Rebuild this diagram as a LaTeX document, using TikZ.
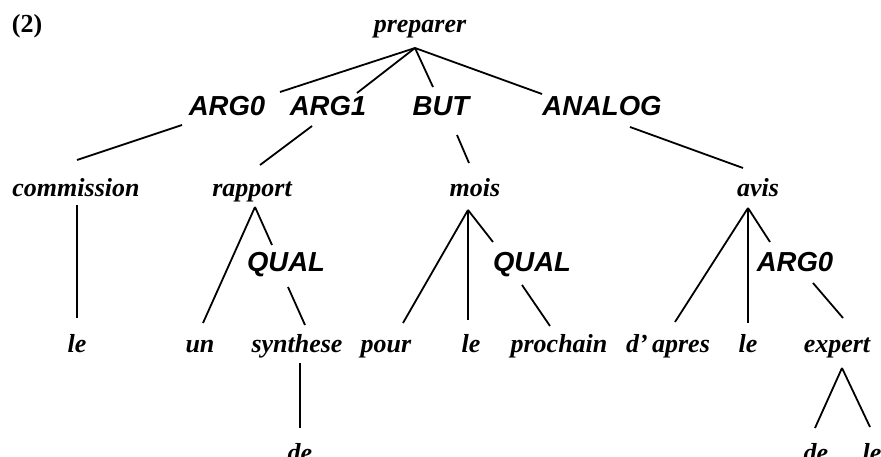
\documentclass[tikz,border=0pt]{standalone}
\usepackage{fontspec}
\setmainfont{Liberation Serif}
\setsansfont{Liberation Sans}
\begin{document}
\begin{tikzpicture}[x=1pt,y=-1pt,
  w/.style={font=\fontsize{26}{30}\selectfont\bfseries\itshape, anchor=base, inner sep=0pt},
  lab/.style={font=\fontsize{27.5}{32}\selectfont\sffamily\bfseries\itshape, anchor=base, inner sep=0pt},
  edge/.style={line width=1.8pt}]
\useasboundingbox (0,0) rectangle (881,457);
% labels
\node[anchor=base, inner sep=0pt, font=\fontsize{26}{30}\selectfont\bfseries] (num) at (27,33) {(2)};
\node[w] (preparer) at (420,33) {preparer};
\node[lab] (ARGa) at (227,116) {ARG0};
\node[lab] (ARGb) at (328,116) {ARG1};
\node[lab] (BUT) at (441,116) {BUT};
\node[lab] (ANALOG) at (602,116) {ANALOG};
\node[w] (commission) at (76,197) {commission};
\node[w] (rapport) at (252,197) {rapport};
\node[w] (mois) at (475,197) {mois};
\node[w] (avis) at (758,197) {avis};
\node[lab] (QUALa) at (286,272) {QUAL};
\node[lab] (QUALb) at (532,272) {QUAL};
\node[lab] (ARGc) at (795,272) {ARG0};
\node[w] (lea) at (77,352) {le};
\node[w] (un) at (200,352) {un};
\node[w] (synthese) at (297,352) {synthese};
\node[w] (pour) at (386,352) {pour};
\node[w] (leb) at (471,352) {le};
\node[w] (prochain) at (559,352) {prochain};
\node[w] (dapres) at (668,352) {d'\,apres};
\node[w] (lec) at (748,352) {le};
\node[w] (expert) at (837,352) {expert};
\node[w] (dea) at (300,461) {de};
\node[w] (deb) at (816,461) {de};
\node[w] (led) at (872,461) {le};
% connectors
\draw[edge] ([shift={(-5,15)}]preparer.base) -- ([shift={(53,-24)}]ARGa.base);
\draw[edge] ([shift={(-5,15)}]preparer.base) -- ([shift={(29,-23)}]ARGb.base);
\draw[edge] ([shift={(-5,15)}]preparer.base) -- ([shift={(-8,-29)}]BUT.base);
\draw[edge] ([shift={(-5,15)}]preparer.base) -- ([shift={(-60,-22)}]ANALOG.base);
\draw[edge] ([shift={(-45,9)}]ARGa.base) -- ([shift={(1,-37)}]commission.base);
\draw[edge] ([shift={(-16,10)}]ARGb.base) -- ([shift={(8,-32)}]rapport.base);
\draw[edge] ([shift={(16,19)}]BUT.base) -- ([shift={(-6,-34)}]mois.base);
\draw[edge] ([shift={(28,11)}]ANALOG.base) -- ([shift={(-15,-29)}]avis.base);
\draw[edge] ([shift={(1,8)}]commission.base) -- ([shift={(0,-34)}]lea.base);
\draw[edge] ([shift={(3,10)}]rapport.base) -- ([shift={(3,-29)}]un.base);
\draw[edge] ([shift={(3,10)}]rapport.base) -- ([shift={(-14,-27)}]QUALa.base);
\draw[edge] ([shift={(2,15)}]QUALa.base) -- ([shift={(8,-27)}]synthese.base);
\draw[edge] ([shift={(3,11)}]synthese.base) -- ([shift={(0,-33)}]dea.base);
\draw[edge] ([shift={(-7,13)}]mois.base) -- ([shift={(17,-29)}]pour.base);
\draw[edge] ([shift={(-7,13)}]mois.base) -- ([shift={(-3,-32)}]leb.base);
\draw[edge] ([shift={(-7,13)}]mois.base) -- ([shift={(-39,-30)}]QUALb.base);
\draw[edge] ([shift={(-10,13)}]QUALb.base) -- ([shift={(-9,-26)}]prochain.base);
\draw[edge] ([shift={(-10,11)}]avis.base) -- ([shift={(7,-30)}]dapres.base);
\draw[edge] ([shift={(-10,11)}]avis.base) -- ([shift={(0,-29)}]lec.base);
\draw[edge] ([shift={(-10,11)}]avis.base) -- ([shift={(-25,-30)}]ARGc.base);
\draw[edge] ([shift={(18,11)}]ARGc.base) -- ([shift={(6,-34)}]expert.base);
\draw[edge] ([shift={(5,16)}]expert.base) -- ([shift={(-1,-33)}]deb.base);
\draw[edge] ([shift={(5,16)}]expert.base) -- ([shift={(-2,-34)}]led.base);
\end{tikzpicture}
\end{document}
